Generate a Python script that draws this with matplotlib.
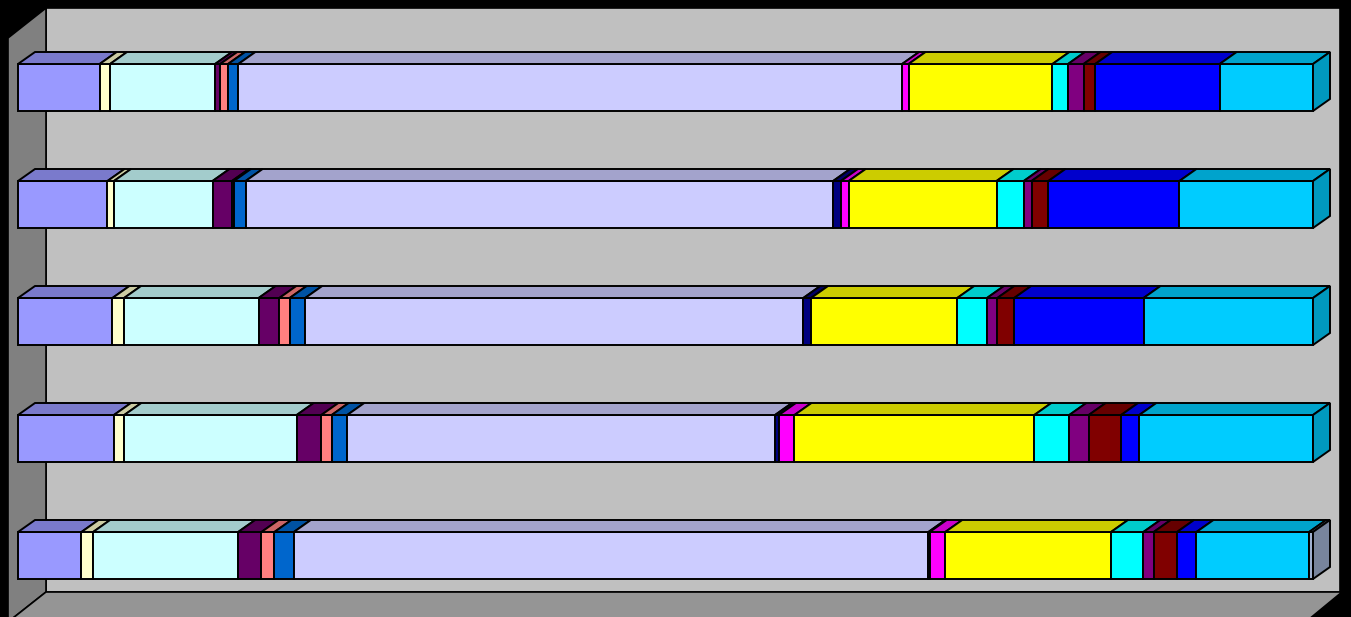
import numpy as np
import matplotlib
matplotlib.use('Agg')
from matplotlib import pyplot as plt
from matplotlib.patches import Polygon
from matplotlib.colors import to_rgb

# 100% stacked 3D bars, five rows (top to bottom), shares in percent
rows = ['1', '2', '3', '4', '5']
colors = ['#9999FF', '#FFFFCC', '#CCFFFF', '#660066', '#FF8080', '#0066CC',
          '#CCCCFF', '#000080', '#FF00FF', '#FFFF00', '#00FFFF', '#800080',
          '#800000', '#0000FF', '#00CCFF', '#A0B0D0']

s_periwinkle = [6.3, 6.9, 7.3, 7.4, 4.9]
s_ivory = [0.8, 0.5, 0.9, 0.8, 0.9]
s_lightcyan = [8.1, 7.6, 10.4, 13.3, 11.2]
s_darkpurple = [0.4, 1.5, 1.6, 1.9, 1.8]
s_coral = [0.6, 0.15, 0.8, 0.8, 1.0]
s_oceanblue = [0.8, 0.9, 1.2, 1.2, 1.5]
s_lavender = [51.2, 45.3, 38.5, 33.0, 49.0]
s_navy = [0.0, 0.6, 0.6, 0.3, 0.1]
s_magenta = [0.5, 0.6, 0.0, 1.2, 1.2]
s_yellow = [11.1, 11.4, 11.3, 18.5, 12.8]
s_cyan = [1.2, 2.1, 2.3, 2.7, 2.5]
s_purple = [1.2, 0.6, 0.8, 1.5, 0.8]
s_darkred = [0.9, 1.3, 1.3, 2.5, 1.8]
s_blue = [9.6, 10.1, 10.0, 1.4, 1.5]
s_skyblue = [7.2, 10.3, 13.1, 13.4, 8.7]
s_last = [0.0, 0.0, 0.0, 0.0, 0.3]

series = [s_periwinkle, s_ivory, s_lightcyan, s_darkpurple, s_coral, s_oceanblue,
          s_lavender, s_navy, s_magenta, s_yellow, s_cyan, s_purple,
          s_darkred, s_blue, s_skyblue, s_last]

vals = np.array(series, dtype=float)
vals = vals / vals.sum(axis=0) * 100

# layout (pixels)
W, H = 1351, 617
x_front0, x_front1 = 18, 1313
row_c0, row_step = 87.5, 117
bar_h_px = 47
depth_x, depth_y = 17, 12

ppu = (x_front1 - x_front0) / 100.0
fig = plt.figure(figsize=(W / 100, H / 100), dpi=100)
fig.patch.set_facecolor('black')
ax = fig.add_axes([0, 0, 1, 1])
ax.set_facecolor('black')
ax.set_xlim(-x_front0 / ppu, (W - x_front0) / ppu)
ax.set_ylim((H - row_c0) / row_step, -row_c0 / row_step)
ax.axis('off')

def shade(c, f):
    r, g, b = to_rgb(c)
    return (r * f, g * f, b * f)

def fig_px(pts):
    return [(x / W, 1 - y / H) for x, y in pts]

# walls and floor
back = [(46, 8), (1340, 8), (1340, 592), (46, 592)]
left = [(8, 38), (46, 8), (46, 592), (8, 622)]
floor = [(46, 592), (1342, 592), (1308, 620), (8, 622)]
for pts, c in [(back, '#C0C0C0'), (left, '#808080'), (floor, '#959595')]:
    ax.add_patch(Polygon(fig_px(pts), closed=True, facecolor=c, edgecolor='black',
                         lw=1.2, transform=fig.transFigure, zorder=1))

h = bar_h_px / row_step
ddx = depth_x / ppu
ddy = depth_y / row_step
lw = 1.4

for i, row in enumerate(rows):
    left_edge = 0.0
    last_k = max(k for k in range(len(series)) if vals[k, i] > 0)
    for k in range(len(series)):
        v = vals[k, i]
        if v <= 0:
            continue
        c = colors[k]
        ax.barh(i, v, left=left_edge, height=h, color=c, edgecolor='black', lw=lw, zorder=3)
        r = left_edge + v
        top = i - h / 2
        ax.add_patch(Polygon([(left_edge, top), (r, top), (r + ddx, top - ddy),
                              (left_edge + ddx, top - ddy)], closed=True,
                             facecolor=shade(c, 0.8), edgecolor='black', lw=lw, zorder=3))
        if k == last_k:
            ax.add_patch(Polygon([(r, top), (r + ddx, top - ddy), (r + ddx, top + h - ddy),
                                  (r, top + h)], closed=True,
                                 facecolor=shade(c, 0.75), edgecolor='black', lw=lw, zorder=3))
        left_edge = r

fig.savefig('out.png', dpi=100, facecolor=fig.get_facecolor())
